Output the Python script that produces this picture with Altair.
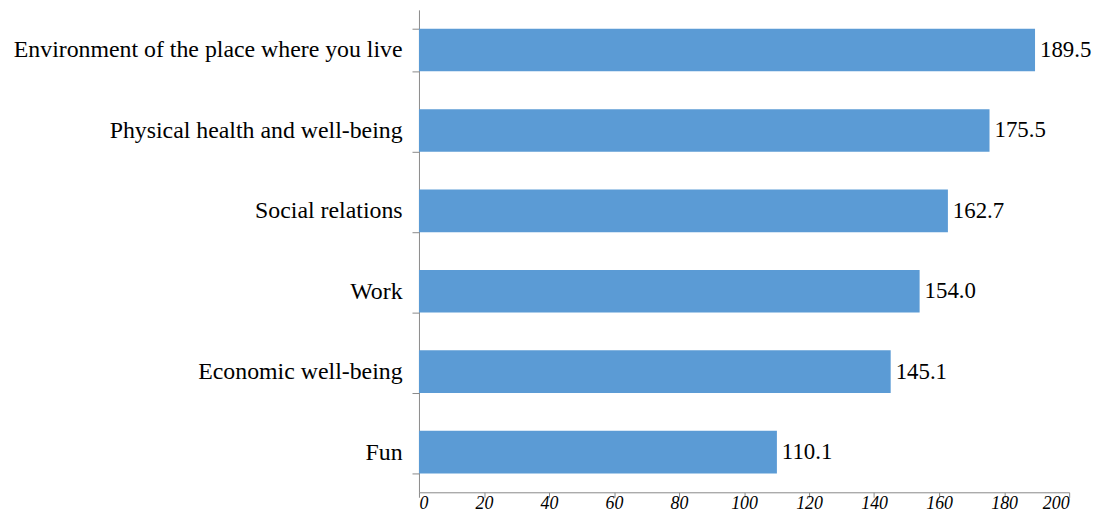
import altair as alt
import pandas as pd

categories = [
    "Environment of the place where you live",
    "Physical health and well-being",
    "Social relations",
    "Work",
    "Economic well-being",
    "Fun",
]
# labels as printed (some carry trailing spaces in the original)
category_labels = [
    "Environment of the place where you live",
    "Physical health and well-being\u00a0",
    "Social relations\u00a0\u00a0\u00a0",
    "Work\u00a0\u00a0\u00a0\u00a0",
    "Economic well-being\u00a0",
    "Fun\u00a0",
]
values = [189.5, 175.5, 162.7, 154.0, 145.1, 110.1]
x_ticks = [0, 20, 40, 60, 80, 100, 120, 140, 160, 180, 200]

df = pd.DataFrame({"cat": category_labels, "value": values})

FONT = "Liberation Serif"
AXIS_GREY = "#898989"

y_enc = alt.Y(
    "cat:N",
    sort=category_labels,
    title=None,
    scale=alt.Scale(paddingInner=0.47, paddingOuter=0.235),
    axis=alt.Axis(
        title=None,
        labelFont=FONT,
        labelFontSize=24,
        labelColor="#000000",
        labelPadding=10,
        labelLimit=600,
        tickSize=7,
        tickBand="extent",
        tickColor=AXIS_GREY,
        domainColor=AXIS_GREY,
        grid=False,
    ),
)

x_enc = alt.X(
    "value:Q",
    title=None,
    scale=alt.Scale(domain=[0, 200], nice=False),
    axis=alt.Axis(
        title=None,
        values=x_ticks,
        labelFont=FONT,
        labelFontSize=18,
        labelFontStyle="italic",
        labelColor="#000000",
        labelPadding=-3,
        tickSize=5,
        tickColor=AXIS_GREY,
        domainColor=AXIS_GREY,
        grid=False,
    ),
)

bars = alt.Chart(df).mark_bar(color="#5B9BD5").encode(x=x_enc, y=y_enc)

labels = alt.Chart(df).mark_text(
    align="left", baseline="middle", dx=5, font=FONT, fontSize=23, color="#000000"
).encode(
    x=alt.X("value:Q", title=None),
    y=alt.Y("cat:N", sort=category_labels, title=None),
    text=alt.Text("value:Q", format=".1f"),
)

chart = (
    alt.layer(bars, labels)
    .properties(
        width=655,
        height=486,
        autosize=alt.AutoSizeParams(type="none"),
        padding={"left": 414, "top": 0, "right": 23, "bottom": 19},
        background="#ffffff",
    )
    .configure_view(stroke=None)
)

chart.save("out.html", embed_options={"renderer": "svg", "actions": False})
